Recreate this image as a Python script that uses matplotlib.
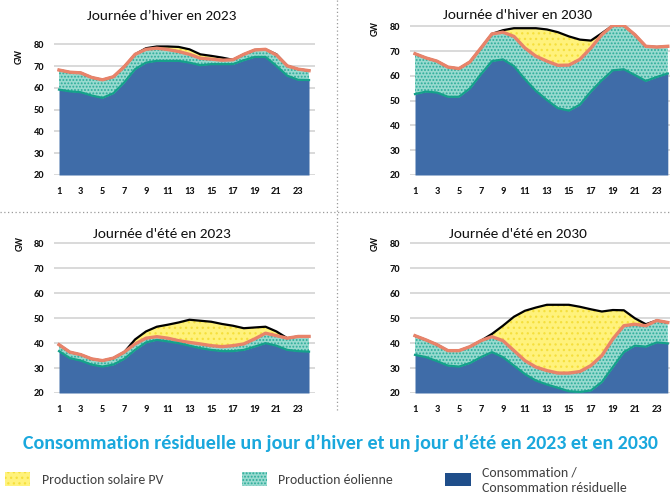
import matplotlib
matplotlib.use("Agg")
import matplotlib.pyplot as plt
from matplotlib.lines import Line2D
from matplotlib.patches import Rectangle
import numpy as np

plt.rcParams['font.family'] = ['Carlito', 'Liberation Sans', 'DejaVu Sans']
plt.rcParams['hatch.linewidth'] = 0.9

heures = np.arange(1, 25)

# Journee d'hiver 2023
hiv23_resid = [59.2, 58.4, 58.0, 56.5, 55.4, 57.5, 62.5, 68.6, 71.6, 72.4, 72.4, 72.4,
               71.6, 70.4, 70.9, 70.9, 70.9, 72.7, 74.2, 74.2, 70.1, 65.6, 63.7, 63.6]
hiv23_eol = [9.0, 8.8, 8.9, 8.3, 8.3, 7.6, 7.2, 6.8, 6.1, 5.8, 5.2, 4.3,
             3.8, 3.2, 2.3, 1.8, 2.0, 2.7, 3.2, 3.5, 5.0, 4.5, 4.9, 4.3]
hiv23_pv = [0, 0, 0, 0, 0, 0, 0, 0, 0.5, 0.8, 1.4, 2.1,
            2.3, 1.8, 1.5, 1.2, 0, 0, 0, 0, 0.3, 0, 0, 0]

# Journee d'hiver 2030
hiv30_resid = [52.7, 53.7, 53.3, 51.6, 51.6, 55.0, 60.7, 66.0, 66.7, 64.0, 58.7, 54.0,
               50.3, 47.0, 46.0, 48.4, 53.7, 58.3, 62.3, 62.7, 60.4, 58.0, 59.6, 61.0]
hiv30_eol = [16.3, 13.6, 12.7, 12.0, 11.4, 10.7, 10.6, 11.0, 11.0, 12.0, 12.6, 14.0,
             15.7, 17.3, 18.4, 18.3, 17.6, 18.4, 18.1, 17.7, 16.3, 14.0, 12.1, 11.0]
hiv30_pv = [0, 0, 0, 0, 0, 0, 0, 0, 0.8, 3.3, 8.0, 11.3,
            12.8, 13.4, 11.6, 8.0, 3.0, 0.6, 0, 0, 0, 0, 0, 0]

# Journee d'ete 2023
ete23_resid = [36.8, 34.0, 33.0, 31.4, 30.6, 31.4, 33.7, 37.3, 40.3, 41.3, 40.7, 40.0,
               39.0, 38.0, 37.3, 36.8, 36.8, 37.3, 38.6, 40.0, 39.0, 37.3, 36.8, 36.6]
ete23_eol = [2.6, 2.4, 2.4, 2.3, 2.4, 2.6, 2.7, 2.4, 1.7, 1.3, 1.3, 1.0,
             1.3, 1.7, 1.7, 1.8, 2.2, 2.4, 3.1, 4.0, 4.0, 4.7, 5.9, 6.1]
ete23_pv = [0, 0, 0, 0, 0, 0, 0, 1.8, 2.7, 4.0, 5.4, 7.3,
            9.1, 9.3, 9.6, 9.1, 8.0, 6.3, 4.6, 2.6, 1.7, 0, 0, 0]

# Journee d'ete 2030
ete30_resid = [35.3, 34.4, 32.8, 31.0, 30.6, 32.0, 34.4, 36.4, 34.4, 31.0, 27.6, 25.0,
               23.4, 22.1, 20.7, 20.4, 21.0, 24.4, 30.4, 36.4, 39.0, 38.6, 40.3, 39.9]
ete30_eol = [7.7, 6.9, 6.6, 6.0, 6.4, 6.6, 6.6, 6.2, 6.6, 6.0, 5.4, 5.4,
             5.6, 5.9, 7.3, 8.2, 10.0, 10.6, 11.3, 10.6, 8.6, 8.4, 8.8, 8.4]
ete30_pv = [0, 0, 0, 0, 0, 0, 0, 1.1, 6.0, 13.6, 20.0, 23.9,
            26.4, 27.4, 27.4, 26.0, 22.6, 17.7, 11.6, 6.2, 2.4, 0.6, 0, 0]

titres = ["Journée d\u2019hiver en 2023", "Journée d'hiver en 2030",
          "Journée d'été en 2023", "Journée d'été en 2030"]
legende = ["Production solaire PV", "Production éolienne",
           "Consommation /\nConsommation résiduelle"]
titre_general = "Consommation résiduelle un jour d\u2019hiver et un jour d\u2019été en 2023 et en 2030"

BLEU = '#3f6ca8'
TEAL_FOND = '#98dacf'
TEAL_MOTIF = '#2aac99'
TEAL_LIGNE = '#14a18a'
JAUNE = '#fff27c'
JAUNE_MOTIF = '#f5df3c'
ORANGE = '#e8836a'

W, H = 670, 496
fig = plt.figure(figsize=(W / 100, H / 100), dpi=100)

def px_axes(x0, x1, ytop, ybot):
    return fig.add_axes([x0 / W, 1 - ybot / H, (x1 - x0) / W, (ybot - ytop) / H])

panneaux = [
    (hiv23_resid, hiv23_eol, hiv23_pv, (54, 315, 43, 175), (0.54, 24.55), (162, 16), (19, 57)),
    (hiv30_resid, hiv30_eol, hiv30_pv, (410, 670, 25, 175), (0.545, 24.2), (518, 15), (375, 28)),
    (ete23_resid, ete23_eol, ete23_pv, (54, 315, 242, 393), (0.54, 24.55), (162, 234), (20, 243)),
    (ete30_resid, ete30_eol, ete30_pv, (410, 670, 242, 393), (0.545, 24.2), (518, 234), (375, 243)),
]

for i, (resid, eol, pv, pos, xl, tpos, gwpos) in enumerate(panneaux):
    ax = px_axes(*pos)
    resid = np.array(resid)
    haut_eol = resid + np.array(eol)
    total = haut_eol + np.array(pv)
    ax.fill_between(heures, 20, resid, color=BLEU, lw=0, zorder=2)
    ax.fill_between(heures, resid, haut_eol, facecolor=TEAL_FOND, edgecolor=TEAL_MOTIF,
                    hatch='.....', lw=0, zorder=2)
    ax.fill_between(heures, haut_eol, total, facecolor=JAUNE, edgecolor=JAUNE_MOTIF,
                    hatch='...', lw=0, zorder=2)
    ax.plot(heures, total, color='black', lw=1.6, zorder=3)
    ax.plot(heures, haut_eol, color=ORANGE, lw=2.4, zorder=4)
    ax.plot(heures, resid, color=TEAL_LIGNE, lw=1.6, zorder=4)
    ax.set_xlim(*xl)
    ax.set_ylim(20, 80.6)
    ax.set_yticks(range(20, 81, 10))
    ax.set_xticks(range(1, 24, 2))
    ax.grid(axis='y', color='#d9d9d9', lw=1.4, zorder=1)
    ax.set_axisbelow(True)
    for s in ax.spines.values():
        s.set_visible(False)
    ax.tick_params(length=0, labelsize=7.5, pad=9, colors='#111111')
    ax.tick_params(axis='y', pad=7)
    for lab in ax.get_xticklabels() + ax.get_yticklabels():
        lab.set_fontweight('bold')
    fig.text(tpos[0] / W, 1 - tpos[1] / H, titres[i], ha='center', va='center',
             fontsize=11, color='#111111')
    fig.text(gwpos[0] / W, 1 - gwpos[1] / H, "GW", ha='center', va='center',
             rotation=90, fontsize=7, fontweight='bold', color='#111111')

# separateurs pointilles
fig.add_artist(Line2D([337 / W, 337 / W], [1, 1 - 412 / H], transform=fig.transFigure,
                      color='#9a9a9a', lw=0.9, ls=(0, (1, 2))))
fig.add_artist(Line2D([0, 1], [1 - 212 / H, 1 - 212 / H], transform=fig.transFigure,
                      color='#9a9a9a', lw=0.9, ls=(0, (1, 2))))

fig.text(340 / W, 1 - 443 / H, titre_general, ha='center', va='center',
         fontsize=14.4, fontweight='bold', color='#1aa8dd')

# legende
fig.add_artist(Rectangle((5 / W, 1 - 486 / H), 25 / W, 14 / H, transform=fig.transFigure,
                         facecolor=JAUNE, edgecolor=JAUNE_MOTIF, hatch='...', lw=0))
fig.text(42 / W, 1 - 480 / H, legende[0], ha='left', va='center', fontsize=10, color='#404040')
fig.add_artist(Rectangle((242 / W, 1 - 486 / H), 25 / W, 14 / H, transform=fig.transFigure,
                         facecolor=TEAL_FOND, edgecolor=TEAL_MOTIF, hatch='.....', lw=0))
fig.text(278 / W, 1 - 480 / H, legende[1], ha='left', va='center', fontsize=10, color='#404040')
fig.add_artist(Rectangle((445 / W, 1 - 486 / H), 26 / W, 13 / H, transform=fig.transFigure,
                         facecolor='#1f4e8a', lw=0))
fig.text(482 / W, 1 - 480 / H, legende[2], ha='left', va='center', fontsize=10,
         color='#404040', linespacing=1.35)

fig.savefig("out.png", dpi=100)
